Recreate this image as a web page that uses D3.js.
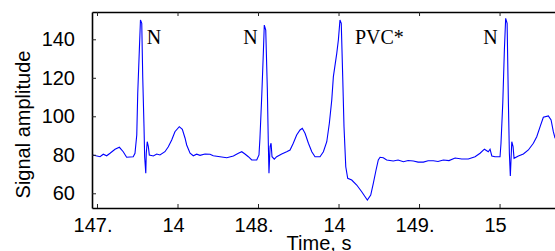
<!DOCTYPE html>
<html>
<head>
<meta charset="utf-8">
<script src="https://cdn.jsdelivr.net/npm/d3@7"></script>
<style>
  body { margin: 0; background: #fff; }
  svg { display: block; }
  .axis text { font-family: "Liberation Sans", Arial, sans-serif; font-size: 20px; fill: #000; }
  .axis .domain { stroke: #000; stroke-width: 1.6px; }
  .axis .tick line { stroke: #222; stroke-width: 1px; }
</style>
</head>
<body>
<svg width="555" height="251"></svg>
<script>
// time (s) and amplitude
var times = [147.473,147.519,147.539,147.560,147.581,147.612,147.639,147.663,147.684,147.725,
  147.736,147.747,147.753,147.763,147.770,147.778,147.784,147.792,147.796,147.803,
  147.806,147.812,147.819,147.825,147.850,147.871,147.891,147.922,147.943,147.964,
  147.984,148.011,148.030,148.047,148.057,148.078,148.098,148.119,148.140,148.171,
  148.202,148.222,148.264,148.306,148.347,148.378,148.399,148.419,148.440,148.461,
  148.492,148.506,148.512,148.523,148.533,148.539,148.548,148.558,148.564,148.568,
  148.575,148.581,148.587,148.601,148.616,148.647,148.678,148.699,148.719,148.740,
  148.761,148.775,148.792,148.813,148.834,148.854,148.885,148.906,148.927,148.943,
  148.958,148.968,148.989,148.999,149.009,149.017,149.026,149.034,149.045,149.057,
  149.082,149.113,149.144,149.165,149.179,149.200,149.216,149.233,149.247,149.258,
  149.278,149.299,149.340,149.370,149.403,149.432,149.465,149.494,149.527,149.556,
  149.589,149.618,149.651,149.686,149.724,149.765,149.806,149.848,149.879,149.906,
  149.930,149.941,149.952,149.972,150.003,150.009,150.020,150.030,150.038,150.047,
  150.055,150.061,150.067,150.076,150.084,150.090,150.117,150.148,150.179,150.210,
  150.231,150.252,150.272,150.303,150.320,150.334,150.345];
var amplitude = [79.9,79.0,80.3,79.5,80.8,82.9,83.9,81.6,78.7,79.0,
  80.8,90.3,111.9,134.4,150.0,148.3,120.6,94.6,79.0,70.4,
  80.8,86.8,84.2,79.9,79.4,80.4,79.9,81.6,84.2,87.7,
  92.0,94.6,93.2,88.6,85.1,80.8,79.5,80.3,79.7,80.4,
  80.3,79.5,79.0,78.5,79.4,80.8,81.6,80.4,79.0,77.3,
  77.3,79.9,88.6,110.2,132.7,147.4,144.8,113.7,86.0,70.4,
  84.2,86.0,79.0,77.7,79.0,80.4,81.6,82.5,86.0,90.3,
  92.9,93.8,91.2,86.0,81.6,79.0,79.0,81.6,86.8,96.4,
  108.5,120.6,132.7,139.6,150.0,148.3,120.6,94.6,73.8,67.8,
  66.9,64.3,60.8,58.2,56.5,59.1,65.2,72.1,77.3,78.7,
  78.5,77.3,76.8,77.3,76.4,77.0,76.8,76.2,76.2,76.9,
  76.9,76.5,77.3,77.0,78.3,77.8,77.8,79.0,80.8,82.9,
  81.6,82.9,79.4,79.0,79.0,86.0,106.8,134.4,150.9,148.3,
  106.8,80.8,69.0,86.8,84.2,78.2,79.4,80.4,82.5,86.0,
  89.4,94.6,99.5,100.2,98.1,92.0,88.6];

var xTicks = [147.5, 148, 148.5, 149, 149.5, 150];
var xTickLabels = ["147.", "14", "148.", "14", "149.", "15"];
var yTicks = [60, 80, 100, 120, 140];

var beatLabels = ["N", "N", "PVC*", "N"];
var beatTimes = [147.809, 148.409, 149.102, 149.899];
var beatLevel = 137.6;

var svg = d3.select("svg"),
    margin = {top: 12, right: -3, bottom: 43, left: 92},
    width = svg.attr("width") - margin.left - margin.right,
    height = svg.attr("height") - margin.top - margin.bottom;

var x = d3.scaleLinear().domain([147.469, 150.363]).range([0, width]),
    y = d3.scaleLinear().domain([52.36, 154.18]).range([height, 0]);

var g = svg.append("g")
    .attr("transform", "translate(" + margin.left + "," + margin.top + ")");

g.append("clipPath").attr("id", "clip")
  .append("rect").attr("width", width).attr("height", height);

var data = times.map(function(t, i) { return {t: t, v: amplitude[i]}; });

var line = d3.line()
    .x(function(d) { return x(d.t); })
    .y(function(d) { return y(d.v); });

g.append("path")
    .datum(data)
    .attr("clip-path", "url(#clip)")
    .attr("fill", "none")
    .attr("stroke", "#0000ff")
    .attr("stroke-width", 1.1)
    .attr("d", line);

// beat annotations
g.selectAll(".beat")
  .data(beatLabels)
  .enter().append("text")
    .attr("class", "beat")
    .attr("x", function(d, i) { return x(beatTimes[i]); })
    .attr("y", y(beatLevel))
    .style("font-family", "'Liberation Serif', 'Times New Roman', serif")
    .style("font-size", "20px")
    .text(function(d) { return d; });

// bottom axis, ticks pointing in
var xAxis = g.append("g")
    .attr("class", "axis axis--x")
    .attr("transform", "translate(0," + height + ")")
    .call(d3.axisBottom(x).tickValues(xTicks).tickSizeInner(-4).tickSizeOuter(0)
      .tickFormat(function(d, i) { return xTickLabels[i]; }));
xAxis.selectAll("text").attr("y", 24).attr("dy", null).attr("dx", -4.5);

// top axis, ticks only
g.append("g")
    .attr("class", "axis axis--top")
    .call(d3.axisTop(x).tickValues(xTicks).tickSizeInner(-4).tickSizeOuter(0).tickFormat(""));

// left axis
var yAxis = g.append("g")
    .attr("class", "axis axis--y")
    .call(d3.axisLeft(y).tickValues(yTicks).tickSizeInner(-4).tickSizeOuter(0));
yAxis.selectAll("text").attr("x", -17);

g.append("line")
    .attr("x1", width).attr("x2", width).attr("y1", 0).attr("y2", height)
    .attr("stroke", "#000").attr("stroke-width", 1.6);

svg.append("text")
    .attr("transform", "translate(29.5," + 124.5 + ") rotate(-90)")
    .attr("text-anchor", "middle")
    .style("font-family", "'Liberation Sans', Arial, sans-serif")
    .style("font-size", "20px")
    .text("Signal amplitude");

svg.append("text")
    .attr("x", 319)
    .attr("y", 250)
    .attr("text-anchor", "middle")
    .style("font-family", "'Liberation Sans', Arial, sans-serif")
    .style("font-size", "20px")
    .text("Time, s");
</script>
</body>
</html>
